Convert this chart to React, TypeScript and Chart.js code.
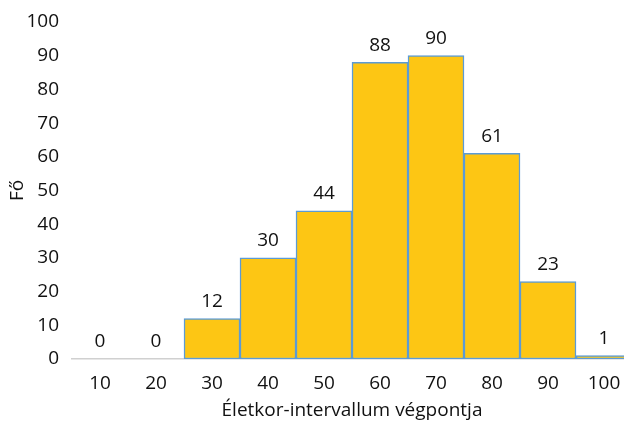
import React, { useEffect, useRef } from "react";
import { Chart, registerables } from "chart.js";

Chart.register(...registerables);

const categories = ["10", "20", "30", "40", "50", "60", "70", "80", "90", "100"];
const counts = [0, 0, 12, 30, 44, 88, 90, 61, 23, 1];
const yTitle = "Fő";
const xTitle = "Életkor-intervallum végpontja";

const FONT = "'Open Sans', sans-serif";
const TXT = "#111111";

const labelPlugin = {
  id: "barLabels",
  afterDatasetsDraw(chart: any) {
    const ctx = chart.ctx;
    const meta = chart.getDatasetMeta(0);
    ctx.save();
    ctx.font = `19px ${FONT}`;
    ctx.fillStyle = TXT;
    ctx.textAlign = "center";
    ctx.textBaseline = "middle";
    meta.data.forEach((el: any, i: number) => {
      ctx.fillText(String(counts[i]), el.x, el.y - 17);
    });
    ctx.restore();
  },
};

export default function App() {
  const ref = useRef<HTMLCanvasElement>(null);
  useEffect(() => {
    const chart = new Chart(ref.current!, {
      type: "bar",
      data: {
        labels: categories,
        datasets: [
          {
            data: counts,
            backgroundColor: "#FDC614",
            borderColor: "#5B9BD5",
            borderWidth: 1.5,
            borderSkipped: false,
            barPercentage: 1,
            categoryPercentage: 1,
          },
        ],
      },
      options: {
        animation: false,
        responsive: false,
        maintainAspectRatio: false,
        layout: { padding: { top: 22, right: 8, left: 0, bottom: 0 } },
        plugins: { legend: { display: false }, tooltip: { enabled: false } },
        scales: {
          x: {
            grid: { display: false },
            border: { display: true, color: "#d0d0d0", width: 1.5 },
            ticks: { color: TXT, font: { family: FONT, size: 19 }, padding: 5 },
            title: {
              display: true,
              text: xTitle,
              color: TXT,
              font: { family: FONT, size: 19 },
              padding: { top: 4, bottom: 6 },
            },
            afterFit(scale: any) {
              scale.height = 69;
            },
          },
          y: {
            min: 0,
            max: 100,
            grid: { display: false },
            border: { display: false },
            ticks: { stepSize: 10, color: TXT, font: { family: FONT, size: 19 }, padding: 5 },
            title: {
              display: true,
              text: yTitle,
              color: TXT,
              font: { family: FONT, size: 19 },
              padding: { top: 6, bottom: 4 },
            },
            afterFit(scale: any) {
              scale.width = 72;
            },
          },
        },
      },
      plugins: [labelPlugin],
    });
    return () => chart.destroy();
  }, []);
  return (
    <div style={{ position: "fixed", left: 0, top: 0, width: 624, height: 428, overflow: "hidden", background: "#fff" }}>
      <canvas ref={ref} width={640} height={428} style={{ width: 640, height: 428 }} />
    </div>
  );
}
